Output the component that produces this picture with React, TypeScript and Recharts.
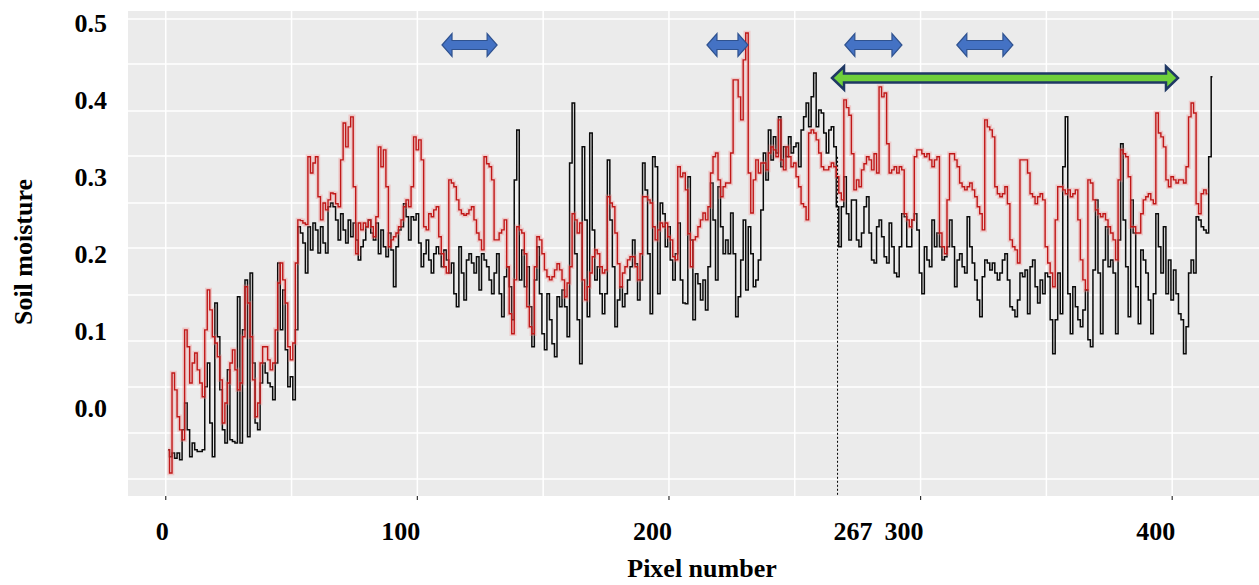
import { CartesianGrid, Label, Line, LineChart, ReferenceLine, XAxis, YAxis } from 'recharts';

const pixelTicks = [0, 100, 200, 267, 300, 400];
const moistureTicks = [0, 0.1, 0.2, 0.3, 0.4, 0.5];
const gridX = [0, 50, 100, 150, 200, 250, 300, 350, 400];
const gridY = [0.5052, 0.4467, 0.3856, 0.327, 0.266, 0.2075, 0.1463, 0.0865, 0.0267, -0.0331, -0.0929];

// red series, pixel 1..414
const redSeries = [
  -0.055, -0.085, 0.045, 0.023, -0.012, -0.029, -0.042, 0.101, 0.079, 0.032,
  0.058, 0.071, 0.049, 0.032, 0.014, 0.101, 0.153, 0.127, 0.092, 0.084,
  0.066, 0.036, -0.02, 0.006, 0.032, 0.058, 0.075, 0.049, 0.023, 0.032,
  0.092, 0.157, 0.136, 0.092, 0.036, -0.012, 0.006, 0.058, 0.079, 0.079,
  0.062, 0.049, 0.058, 0.101, 0.162, 0.188, 0.166, 0.136, 0.079, 0.062,
  0.084, 0.188, 0.244, 0.243, 0.24, 0.238, 0.326, 0.305, 0.318, 0.326,
  0.274, 0.244, 0.266, 0.257, 0.27, 0.279, 0.278, 0.265, 0.261, 0.322,
  0.37, 0.339, 0.365, 0.378, 0.287, 0.2, 0.24, 0.231, 0.24, 0.235,
  0.244, 0.235, 0.222, 0.248, 0.339, 0.313, 0.335, 0.287, 0.209, 0.218,
  0.222, 0.227, 0.235, 0.244, 0.261, 0.27, 0.261, 0.287, 0.352, 0.335,
  0.348, 0.322, 0.235, 0.231, 0.252, 0.248, 0.257, 0.261, 0.222, 0.2,
  0.183, 0.175, 0.296, 0.292, 0.287, 0.27, 0.257, 0.252, 0.25, 0.252,
  0.257, 0.261, 0.244, 0.227, 0.218, 0.205, 0.326, 0.317, 0.313, 0.296,
  0.218, 0.218, 0.227, 0.231, 0.244, 0.183, 0.122, 0.096, 0.166, 0.235,
  0.231, 0.227, 0.2, 0.131, 0.105, 0.096, 0.183, 0.222, 0.218, 0.2,
  0.179, 0.17, 0.166, 0.17, 0.179, 0.187, 0.179, 0.166, 0.144, 0.162,
  0.183, 0.252, 0.244, 0.227, 0.24, 0.166, 0.14, 0.157, 0.175, 0.196,
  0.205, 0.2, 0.183, 0.175, 0.179, 0.274, 0.266, 0.261, 0.227, 0.187,
  0.157, 0.175, 0.183, 0.192, 0.196, 0.196, 0.183, 0.166, 0.2, 0.274,
  0.274, 0.27, 0.266, 0.235, 0.218, 0.231, 0.24, 0.235, 0.24, 0.222,
  0.218, 0.196, 0.192, 0.313, 0.3, 0.305, 0.283, 0.226, 0.183, 0.218,
  0.222, 0.235, 0.244, 0.253, 0.244, 0.261, 0.305, 0.326, 0.331, 0.296,
  0.274, 0.287, 0.292, 0.292, 0.331, 0.426, 0.426, 0.404, 0.374, 0.452,
  0.487, 0.305, 0.253, 0.296, 0.322, 0.305, 0.318, 0.318, 0.309, 0.331,
  0.339, 0.335, 0.326, 0.374, 0.322, 0.309, 0.339, 0.326, 0.313, 0.318,
  0.3, 0.287, 0.265, 0.261, 0.244, 0.357, 0.361, 0.357, 0.348, 0.331,
  0.313, 0.309, 0.309, 0.313, 0.318, 0.313, 0.3, 0.279, 0.27, 0.4,
  0.39, 0.38, 0.33, 0.283, 0.296, 0.287, 0.309, 0.317, 0.326, 0.322,
  0.309, 0.33, 0.305, 0.417, 0.404, 0.409, 0.343, 0.305, 0.309, 0.313,
  0.305, 0.313, 0.309, 0.252, 0.244, 0.235, 0.244, 0.326, 0.335, 0.335,
  0.33, 0.326, 0.33, 0.322, 0.313, 0.322, 0.326, 0.227, 0.209, 0.2,
  0.27, 0.33, 0.33, 0.322, 0.313, 0.292, 0.287, 0.283, 0.287, 0.292,
  0.283, 0.274, 0.261, 0.252, 0.231, 0.374, 0.365, 0.361, 0.352, 0.287,
  0.278, 0.274, 0.278, 0.287, 0.265, 0.218, 0.209, 0.205, 0.188, 0.322,
  0.322, 0.322, 0.305, 0.278, 0.274, 0.265, 0.274, 0.278, 0.27, 0.209,
  0.188, 0.175, 0.157, 0.244, 0.287, 0.287, 0.283, 0.278, 0.283, 0.274,
  0.278, 0.283, 0.244, 0.192, 0.166, 0.153, 0.296, 0.292, 0.27, 0.257,
  0.252, 0.248, 0.252, 0.244, 0.235, 0.227, 0.218, 0.192, 0.296, 0.335,
  0.33, 0.326, 0.3, 0.235, 0.235, 0.227, 0.227, 0.252, 0.27, 0.274,
  0.278, 0.27, 0.265, 0.383, 0.357, 0.352, 0.339, 0.296, 0.287, 0.3,
  0.296, 0.292, 0.296, 0.296, 0.292, 0.313, 0.378, 0.396, 0.383, 0.265,
  0.252, 0.278, 0.283, 0.278,
];

// black series, pixel 1..416
const blackSeries = [
  -0.055, -0.064, -0.059, -0.066, -0.059, -0.068, -0.029, 0.006, -0.029, -0.064,
  -0.046, -0.055, -0.057, -0.057, -0.055, 0.027, 0.058, -0.02, -0.064, 0.136,
  0.092, 0.023, -0.029, -0.046, 0.049, -0.042, -0.044, -0.046, 0.144, -0.046,
  0.101, 0.166, -0.038, 0.175, 0.058, -0.02, -0.029, 0.032, 0.058, 0.045,
  0.032, 0.027, 0.01, 0.058, 0.188, 0.101, 0.153, 0.075, 0.027, 0.04,
  0.01, 0.101, 0.235, 0.227, 0.214, 0.175, 0.235, 0.205, 0.24, 0.231,
  0.201, 0.235, 0.214, 0.201, 0.261, 0.266, 0.261, 0.244, 0.218, 0.252,
  0.231, 0.214, 0.244, 0.222, 0.24, 0.218, 0.192, 0.209, 0.218, 0.235,
  0.244, 0.227, 0.218, 0.24, 0.2, 0.231, 0.209, 0.196, 0.227, 0.205,
  0.157, 0.209, 0.231, 0.235, 0.265, 0.248, 0.218, 0.248, 0.244, 0.252,
  0.214, 0.183, 0.2, 0.218, 0.192, 0.175, 0.2, 0.209, 0.2, 0.183,
  0.205, 0.192, 0.175, 0.188, 0.148, 0.131, 0.209, 0.175, 0.14, 0.192,
  0.2, 0.188, 0.175, 0.196, 0.153, 0.2, 0.192, 0.183, 0.166, 0.148,
  0.175, 0.2, 0.148, 0.118, 0.17, 0.183, 0.157, 0.114, 0.296, 0.361,
  0.166, 0.205, 0.157, 0.183, 0.131, 0.079, 0.166, 0.209, 0.148, 0.096,
  0.075, 0.148, 0.114, 0.083, 0.066, 0.144, 0.131, 0.153, 0.131, 0.092,
  0.318, 0.396, 0.2, 0.114, 0.057, 0.339, 0.244, 0.118, 0.357, 0.231,
  0.166, 0.183, 0.148, 0.122, 0.148, 0.322, 0.244, 0.183, 0.105, 0.14,
  0.157, 0.131, 0.148, 0.166, 0.183, 0.218, 0.187, 0.14, 0.166, 0.318,
  0.283, 0.2, 0.122, 0.326, 0.313, 0.148, 0.266, 0.252, 0.209, 0.235,
  0.192, 0.166, 0.2, 0.24, 0.166, 0.136, 0.135, 0.3, 0.218, 0.114,
  0.174, 0.161, 0.14, 0.166, 0.127, 0.183, 0.292, 0.244, 0.166, 0.287,
  0.235, 0.2, 0.218, 0.2, 0.253, 0.2, 0.118, 0.144, 0.192, 0.244,
  0.153, 0.235, 0.2, 0.157, 0.166, 0.192, 0.257, 0.331, 0.296, 0.361,
  0.322, 0.352, 0.331, 0.378, 0.313, 0.339, 0.326, 0.352, 0.331, 0.339,
  0.344, 0.313, 0.361, 0.378, 0.396, 0.365, 0.404, 0.435, 0.365, 0.387,
  0.383, 0.357, 0.331, 0.361, 0.365, 0.339, 0.261, 0.209, 0.261, 0.3,
  0.252, 0.218, 0.27, 0.27, 0.218, 0.209, 0.227, 0.261, 0.274, 0.227,
  0.192, 0.188, 0.235, 0.244, 0.222, 0.196, 0.188, 0.24, 0.209, 0.175,
  0.17, 0.209, 0.252, 0.248, 0.209, 0.209, 0.244, 0.252, 0.231, 0.175,
  0.148, 0.209, 0.192, 0.183, 0.244, 0.209, 0.227, 0.209, 0.192, 0.196,
  0.209, 0.244, 0.209, 0.157, 0.192, 0.2, 0.183, 0.175, 0.248, 0.209,
  0.188, 0.166, 0.14, 0.118, 0.17, 0.192, 0.188, 0.179, 0.188, 0.175,
  0.166, 0.175, 0.192, 0.2, 0.166, 0.131, 0.127, 0.118, 0.14, 0.175,
  0.17, 0.179, 0.122, 0.183, 0.192, 0.157, 0.136, 0.166, 0.148, 0.175,
  0.17, 0.114, 0.07, 0.114, 0.175, 0.122, 0.313, 0.378, 0.148, 0.096,
  0.157, 0.131, 0.114, 0.105, 0.127, 0.153, 0.088, 0.079, 0.179, 0.27,
  0.175, 0.096, 0.192, 0.235, 0.183, 0.192, 0.175, 0.096, 0.218, 0.343,
  0.244, 0.183, 0.118, 0.27, 0.227, 0.157, 0.109, 0.205, 0.192, 0.175,
  0.14, 0.096, 0.148, 0.252, 0.209, 0.175, 0.235, 0.148, 0.192, 0.14,
  0.179, 0.148, 0.122, 0.114, 0.07, 0.105, 0.175, 0.192, 0.175, 0.248,
  0.244, 0.235, 0.231, 0.227, 0.326, 0.43,
];

// annotation arrows, in pixel-number / moisture units
const blueArrows = [
  { from: 109.8, to: 131.7 },
  { from: 215.1, to: 231.4 },
  { from: 269.9, to: 292.6 },
  { from: 314.4, to: 336.7 },
];
const blueArrowLevel = 0.4714;
const greenArrow = { from: 264.8, to: 402.3, level: 0.4285 };
const markerPixel = 267;
const markerTop = 0.326;

const Y_MIN = -0.115;
const Y_MAX = 0.5156;

const data = blackSeries.map((b, i) => ({ pixel: i + 1, black: b, red: redSeries[i] }));

const FONT = "'Liberation Serif', 'Times New Roman', serif";

function arrowShape(fill: string, stroke: string, strokeWidth: number, headLen: number) {
  return (p: any) => {
    const { x1, x2, y1 } = p;
    const a = Math.min(x1, x2);
    const b = Math.max(x1, x2);
    const sh = 4.5;
    const hh = 11.5;
    const pts = [
      [a, y1],
      [a + headLen, y1 - hh],
      [a + headLen, y1 - sh],
      [b - headLen, y1 - sh],
      [b - headLen, y1 - hh],
      [b, y1],
      [b - headLen, y1 + hh],
      [b - headLen, y1 + sh],
      [a + headLen, y1 + sh],
      [a + headLen, y1 + hh],
    ]
      .map((q) => q.join(','))
      .join(' ');
    return <polygon points={pts} fill={fill} stroke={stroke} strokeWidth={strokeWidth} strokeLinejoin="miter" />;
  };
}

function XTick(props: any) {
  const { x, y, payload } = props;
  const v = payload.value;
  const isMarker = v === markerPixel;
  return (
    <g>
      {!isMarker && <line x1={x} x2={x} y1={y} y2={y + 4} stroke="#333" strokeWidth={1.2} />}
      <text
        x={isMarker ? x - 4 : x + 3}
        y={y + 44}
        textAnchor={isMarker ? 'start' : 'end'}
        fontFamily={FONT}
        fontWeight={700}
        fontSize={26}
        fill="#000"
      >
        {v}
      </text>
    </g>
  );
}

function YTick(props: any) {
  const { x, y, payload } = props;
  return (
    <text x={x} y={y} dy="0.35em" textAnchor="end" fontFamily={FONT} fontWeight={700} fontSize={26} fill="#000">
      {Number(payload.value).toFixed(1)}
    </text>
  );
}

export default function App() {
  return (
    <div style={{ width: 1259, height: 585, overflow: 'hidden', background: '#fff' }}>
      <style>{'body{margin:0}'}</style>
      <LineChart width={1259} height={585} data={data} margin={{ top: 11, right: 0, bottom: 0, left: 0 }}>
        <CartesianGrid
          fill="#ebebeb"
          fillOpacity={1}
          stroke="#ffffff"
          strokeWidth={1.5}
          horizontalValues={gridY}
          verticalValues={gridX}
        />
        <XAxis
          type="number"
          dataKey="pixel"
          domain={[-15, 434.5]}
          ticks={pixelTicks}
          interval={0}
          allowDataOverflow
          axisLine={false}
          tickLine={false}
          tickSize={0}
          tickMargin={0}
          height={89}
          tick={<XTick />}
        >
          <Label
            content={() => (
              <text x={702} y={577} textAnchor="middle" fontFamily={FONT} fontWeight={700} fontSize={26} fill="#000">
                Pixel number
              </text>
            )}
          />
        </XAxis>
        <YAxis
          type="number"
          domain={[Y_MIN, Y_MAX]}
          ticks={moistureTicks}
          interval={0}
          allowDataOverflow
          axisLine={false}
          tickLine={false}
          tickSize={0}
          tickMargin={21}
          width={128}
          tick={<YTick />}
        >
          <Label
            content={() => (
              <text
                x={23}
                y={252}
                transform="rotate(-90 23 252)"
                textAnchor="middle"
                dominantBaseline="central"
                fontFamily={FONT}
                fontWeight={700}
                fontSize={26}
                fill="#000"
              >
                Soil moisture
              </text>
            )}
          />
        </YAxis>
        <Line
          type="step"
          dataKey="black"
          stroke="#0a0a0a"
          strokeWidth={1.5}
          dot={false}
          activeDot={false}
          isAnimationActive={false}
        />
        <Line
          type="step"
          dataKey="red"
          stroke="#f08a8a"
          strokeOpacity={0.35}
          strokeWidth={4.5}
          dot={false}
          activeDot={false}
          isAnimationActive={false}
        />
        <Line
          type="step"
          dataKey="red"
          stroke="#c01818"
          strokeWidth={1.4}
          dot={false}
          activeDot={false}
          isAnimationActive={false}
        />
        <ReferenceLine
          segment={[
            { x: markerPixel, y: markerTop },
            { x: markerPixel, y: Y_MIN },
          ]}
          stroke="#000"
          strokeWidth={1}
          strokeDasharray="2 2"
        />
        {blueArrows.map((a, i) => (
          <ReferenceLine
            key={i}
            segment={[
              { x: a.from, y: blueArrowLevel },
              { x: a.to, y: blueArrowLevel },
            ]}
            shape={arrowShape('#4472c4', '#2f528f', 1.2, 10)}
          />
        ))}
        <ReferenceLine
          segment={[
            { x: greenArrow.from, y: greenArrow.level },
            { x: greenArrow.to, y: greenArrow.level },
          ]}
          shape={arrowShape('#6fd03b', '#1f3864', 2.5, 12)}
        />
      </LineChart>
    </div>
  );
}
